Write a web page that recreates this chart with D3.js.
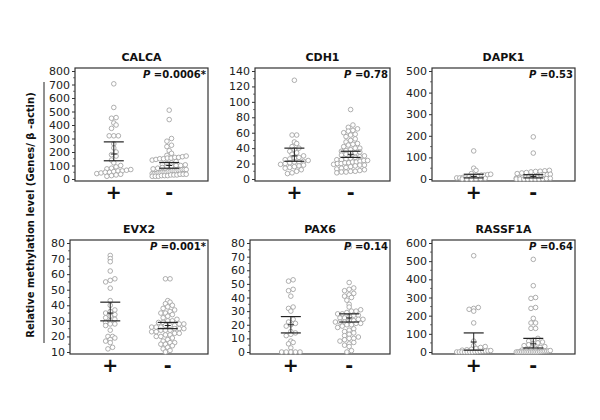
<!DOCTYPE html>
<html>
<head>
<meta charset="utf-8">
<script src="https://cdn.jsdelivr.net/npm/d3@7"></script>
<style>
  body { margin: 0; background: #fff; }
  text { font-family: "DejaVu Sans", Verdana, sans-serif; }
</style>
</head>
<body>
<div class="chart"></div>
<script>
// panel names and stats
var genes = ["CALCA", "CDH1", "DAPK1", "EVX2", "PAX6", "RASSF1A"];
var pValues = ["0.0006*", "0.78", "0.53", "0.001*", "0.14", "0.64"];
var groups = ["+", "-"];
var yMins = [0, 0, 0, 10, 0, 0];
var yMaxs = [800, 140, 500, 80, 80, 600];
var tickSteps = [100, 20, 100, 10, 10, 100];

// individual samples
var calcaPos = [705, 530, 455, 450, 415, 400, 375, 320, 320, 320, 260, 230, 200, 180, 170, 140, 120, 100, 90, 80, 75, 70, 65, 60, 60, 55, 50, 50, 45, 40, 35, 30, 25, 20];
var calcaNeg = [510, 440, 300, 280, 250, 240, 210, 190, 175, 170, 165, 160, 160, 155, 155, 150, 150, 145, 140, 130, 120, 115, 110, 105, 100, 100, 95, 90, 85, 80, 75, 70, 70, 70, 65, 65, 60, 60, 60, 55, 55, 50, 50, 50, 45, 45, 40, 40, 40, 35, 35, 35, 30, 30, 30, 25, 25, 25, 20, 20, 20];
var cdh1Pos = [128, 57, 57, 48, 46, 42, 40, 38, 36, 34, 32, 30, 28, 27, 26, 25, 24, 23, 22, 22, 21, 20, 19, 18, 17, 16, 15, 14, 12, 10, 8, 7];
var cdh1Neg = [90, 70, 67, 65, 63, 62, 60, 58, 57, 55, 52, 50, 48, 46, 45, 44, 42, 40, 40, 38, 37, 36, 35, 34, 33, 32, 31, 30, 29, 28, 27, 26, 25, 25, 24, 24, 23, 22, 22, 21, 21, 20, 20, 19, 18, 18, 17, 16, 15, 14, 13, 12, 11, 10, 10, 9, 9, 8];
var dapk1Pos = [130, 50, 40, 25, 22, 20, 18, 18, 15, 12, 10, 10, 8, 7, 5, 5, 3, 2, 1, 0, 0, 0];
var dapk1Neg = [195, 120, 40, 38, 36, 35, 33, 30, 28, 25, 22, 20, 20, 18, 15, 12, 10, 10, 8, 6, 5, 4, 3, 2, 1, 0, 0, 0, 0, 0, 0, 0];
var evx2Pos = [72, 70, 68, 62, 57, 56, 55, 51, 43, 40, 37, 36, 35, 34, 33, 32, 31, 30, 29, 28, 28, 27, 24, 20, 20, 19, 18, 17, 16, 13, 12];
var evx2Neg = [57, 57, 43, 42, 41, 40, 39, 38, 37, 36, 35, 35, 34, 33, 32, 31, 30, 30, 29, 29, 28, 28, 27, 27, 27, 26, 26, 26, 25, 25, 25, 24, 24, 24, 23, 23, 22, 22, 21, 21, 20, 20, 19, 18, 17, 16, 16, 15, 15, 14, 13, 12, 11, 10];
var pax6Pos = [53, 52, 46, 45, 41, 33, 32, 30, 24, 22, 21, 20, 19, 15, 14, 13, 12, 8, 7, 6, 3, 0, 0, 0, 0, 0];
var pax6Neg = [77, 51, 47, 46, 45, 43, 42, 41, 40, 38, 35, 33, 31, 30, 30, 29, 28, 28, 27, 27, 26, 25, 25, 24, 24, 23, 23, 22, 22, 22, 21, 21, 20, 20, 19, 18, 17, 16, 15, 14, 13, 12, 11, 10, 10, 9, 8, 7, 6, 5, 4, 1, 0];
var rassf1aPos = [530, 245, 240, 235, 225, 160, 60, 35, 30, 25, 20, 15, 12, 10, 8, 6, 5, 4, 3, 2, 1, 0, 0, 0, 0, 0, 0, 0];
var rassf1aNeg = [510, 365, 300, 295, 245, 240, 185, 160, 160, 130, 130, 75, 65, 60, 55, 50, 45, 40, 35, 30, 25, 20, 15, 12, 10, 8, 6, 5, 4, 3, 2, 1, 0, 0, 0, 0, 0, 0, 0, 0, 0, 0, 0, 0, 0];

// error bars [+, -]
var barLow = [[135, 80], [23, 28], [5, 5], [30, 25], [14, 22], [10, 22]];
var barMid = [[185, 100], [30, 32], [12, 12], [35, 27], [20, 25], [55, 45]];
var barHigh = [[275, 122], [40, 36], [22, 20], [42, 29], [26, 28], [105, 75]];

var samples = [
  [calcaPos, calcaNeg], [cdh1Pos, cdh1Neg], [dapk1Pos, dapk1Neg],
  [evx2Pos, evx2Neg], [pax6Pos, pax6Neg], [rassf1aPos, rassf1aNeg]
];

// panel boxes (layout)
var boxes = [
  {x0: 75, x1: 208, y0: 68, y1: 181},
  {x0: 255, x1: 390, y0: 68, y1: 181},
  {x0: 432, x1: 575, y0: 68, y1: 181},
  {x0: 70, x1: 208, y0: 240, y1: 354},
  {x0: 250, x1: 390, y0: 240, y1: 354},
  {x0: 432, x1: 575, y0: 240, y1: 354}
];

var svg = d3.select('.chart').append('svg').attr('width', 600).attr('height', 420);
var r = 2.3;
var binPx = 4.5;     // vertical bin height
var spacing = 4.6;   // horizontal step between dots in a row
var maxHalf = 17;    // widest a row may get on each side

// binned dot layout: dots in the same pixel band sit side by side
function swarm(vals, yScale) {
  var bins = d3.group(vals, function(v) { return Math.round(yScale(v) / binPx); });
  var out = [];
  bins.forEach(function(list) {
    var n = list.length;
    var step = n > 1 ? Math.min(spacing, 2 * maxHalf / (n - 1)) : 0;
    list.sort(d3.ascending).forEach(function(v, k) {
      out.push({dx: (k - (n - 1) / 2) * step, y: yScale(v), v: v});
    });
  });
  return out;
}

genes.forEach(function(gene, i) {
  var b = boxes[i];
  var w = b.x1 - b.x0, h = b.y1 - b.y0;
  var g = svg.append('g').attr('transform', `translate(${b.x0}, ${b.y0})`);

  var yScale = d3.scaleLinear().domain([yMins[i], yMaxs[i]]).range([h - 2, 3]);
  var xScale = d3.scalePoint().domain(groups).range([0, w]).padding(0.7);

  var ticks = d3.range(yMins[i], yMaxs[i] + 0.001, tickSteps[i]);
  var minor = d3.range(yMins[i] + tickSteps[i] / 2, yMaxs[i], tickSteps[i]);

  g.selectAll('.minor').data(minor).enter().append('line')
    .attr('x1', -2).attr('x2', 0)
    .attr('y1', function(d) { return yScale(d); }).attr('y2', function(d) { return yScale(d); })
    .attr('stroke', '#555').attr('stroke-width', 0.8);

  var yAxis = d3.axisLeft(yScale).tickValues(ticks).tickSize(3).tickPadding(2);
  var ax = g.append('g').attr('class', 'y-axis').call(yAxis);
  ax.select('.domain').remove();
  ax.selectAll('text').attr('font-size', '11px').attr('fill', '#222')
    .style('font-family', '"DejaVu Sans", Verdana, sans-serif');
  ax.selectAll('line').attr('stroke', '#333');

  g.append('rect').attr('width', w).attr('height', h)
    .attr('fill', 'none').attr('stroke', '#333').attr('stroke-width', 1.2);

  // points
  groups.forEach(function(grp, j) {
    var cx = xScale(grp);
    var pts = swarm(samples[i][j], yScale);
    g.selectAll('.pt' + j).data(pts).enter().append('circle')
      .attr('cx', function(d) { return cx + d.dx; })
      .attr('cy', function(d) { return d.y; })
      .attr('r', r)
      .attr('fill', 'white').attr('stroke', '#9a9a9a').attr('stroke-width', 0.8);

    // error bar
    var lo = yScale(barLow[i][j]), hi = yScale(barHigh[i][j]), mid = yScale(barMid[i][j]);
    g.append('line').attr('x1', cx).attr('x2', cx).attr('y1', lo).attr('y2', hi)
      .attr('stroke', '#222').attr('stroke-width', 1);
    g.append('line').attr('x1', cx - 10).attr('x2', cx + 10).attr('y1', lo).attr('y2', lo)
      .attr('stroke', '#222').attr('stroke-width', 1.2);
    g.append('line').attr('x1', cx - 10).attr('x2', cx + 10).attr('y1', hi).attr('y2', hi)
      .attr('stroke', '#222').attr('stroke-width', 1.2);
    g.append('line').attr('x1', cx - 3).attr('x2', cx + 3).attr('y1', mid).attr('y2', mid)
      .attr('stroke', '#222').attr('stroke-width', 1);

    g.append('text').attr('x', cx).attr('y', h + 18)
      .attr('text-anchor', 'middle').attr('font-size', '19px').attr('font-weight', 'bold')
      .attr('fill', '#111').text(grp);
  });

  // title
  g.append('text').attr('x', w / 2).attr('y', -7)
    .attr('text-anchor', 'middle').attr('font-size', '11px').attr('font-weight', 'bold')
    .attr('fill', '#111').text(gene);

  // p value
  var pt = g.append('text').attr('x', w - 2).attr('y', 10)
    .attr('text-anchor', 'end').attr('font-size', '10px').attr('font-weight', 'bold')
    .attr('fill', '#111');
  pt.append('tspan').attr('font-style', 'italic').text('P');
  pt.append('tspan').text(' =' + pValues[i]);
});

// shared y label and bracket
svg.append('line').attr('x1', 44).attr('x2', 44).attr('y1', 82).attr('y2', 343)
  .attr('stroke', '#222').attr('stroke-width', 1);
svg.append('text').attr('transform', 'translate(34, 215)rotate(270)')
  .attr('text-anchor', 'middle').attr('font-size', '10px').attr('font-weight', 'bold')
  .attr('fill', '#111').text('Relative methylation level (Genes/ β -actin)');
</script>
</body>
</html>
